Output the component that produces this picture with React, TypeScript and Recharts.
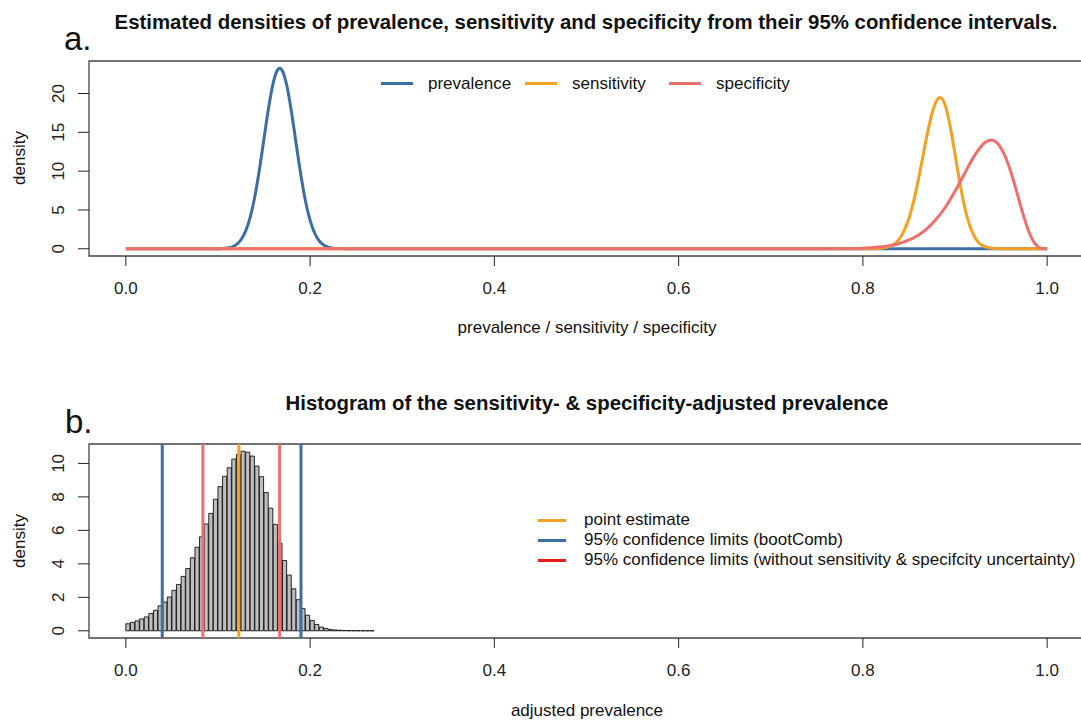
import React from "react";
import { ComposedChart, Line, Bar, XAxis, YAxis, ReferenceLine, ReferenceArea } from "recharts";

const FONT = '"Liberation Sans", Arial, Helvetica, sans-serif';

// ---- panel a: estimated densities ----
const prevalenceX = [0, 0.05, 0.1, 0.11, 0.12, 0.125, 0.13, 0.135, 0.14, 0.145, 0.15, 0.155, 0.16, 0.165, 0.167, 0.17, 0.175, 0.18, 0.185, 0.19, 0.195, 0.2, 0.205, 0.21, 0.215, 0.22, 0.23, 0.25, 0.5, 0.8, 1.0];
const prevalenceDensity = [0, 0, 0.01, 0.09, 0.54, 1.16, 2.27, 4.08, 6.74, 10.21, 14.23, 18.21, 21.4, 23.1, 23.26, 22.9, 20.87, 17.46, 13.41, 9.47, 6.13, 3.66, 2.0, 1.0, 0.46, 0.2, 0.03, 0, 0, 0, 0];

const sensitivityX = [0, 0.5, 0.78, 0.8, 0.81, 0.82, 0.83, 0.84, 0.85, 0.855, 0.86, 0.865, 0.87, 0.875, 0.88, 0.884, 0.89, 0.895, 0.9, 0.905, 0.91, 0.915, 0.92, 0.925, 0.93, 0.94, 0.95, 0.97, 1.0];
const sensitivityDensity = [0, 0, 0, 0, 0.01, 0.07, 0.34, 1.33, 3.93, 6.08, 8.78, 11.83, 14.86, 17.43, 19.07, 19.5, 18.25, 15.61, 12.18, 8.67, 5.63, 3.34, 1.81, 0.89, 0.4, 0.06, 0, 0, 0];

const specificityX = [0, 0.5, 0.75, 0.78, 0.8, 0.82, 0.84, 0.86, 0.87, 0.88, 0.89, 0.9, 0.91, 0.92, 0.93, 0.935, 0.94, 0.945, 0.95, 0.955, 0.96, 0.965, 0.97, 0.975, 0.98, 0.985, 0.99, 0.995, 1.0];
const specificityDensity = [0, 0, 0, 0.02, 0.08, 0.25, 0.69, 1.73, 2.62, 3.86, 5.45, 7.41, 9.61, 11.77, 13.42, 13.88, 14.0, 13.7, 12.96, 11.75, 10.12, 8.16, 6.06, 4.01, 2.25, 0.97, 0.26, 0.02, 0];

const seriesNames = ["prevalence", "sensitivity", "specificity"];
const seriesColors = ["#3b6ea6", "#f6a022", "#ef6f6c"];

// ---- panel b: histogram of adjusted prevalence (bins of 0.005 from 0) ----
const BIN_WIDTH = 0.005;
const histDensity = [
  0.42, 0.5, 0.59, 0.71, 0.83, 1.03, 1.23, 1.49, 1.72, 2.02,
  2.42, 2.77, 3.25, 3.72, 4.36, 4.99, 5.62, 6.38, 7.01, 7.86,
  8.61, 9.23, 9.74, 10.26, 10.53, 10.73, 10.67, 10.44, 9.84, 9.21,
  8.26, 7.33, 6.36, 5.23, 4.2, 3.33, 2.51, 1.86, 1.33, 0.93,
  0.61, 0.38, 0.22, 0.14, 0.08, 0.05, 0.03, 0.02, 0.01, 0.01,
  0.005, 0.005, 0.003, 0.002,
];
const pointEstimate = 0.1227;
const ciBootComb = [0.0395, 0.1901];
const ciNaive = [0.0836, 0.1669];

const limitNames = [
  "point estimate",
  "95% confidence limits (bootComb)",
  "95% confidence limits (without sensitivity & specifcity uncertainty)",
];
const limitColors = ["#f6a022", "#3b6ea6", "#e3201f"];

const X_TICKS = [0, 0.2, 0.4, 0.6, 0.8, 1.0];
const TICKS_A = [0, 5, 10, 15, 20];
const TICKS_B = [0, 2, 4, 6, 8, 10];
const X_DOMAIN: [number, number] = [-0.04, 1.04];
const Y_DOMAIN_A: [number, number] = [-0.93, 24.19];
const Y_DOMAIN_B: [number, number] = [-0.43, 11.16];

const toPoints = (xs: number[], ys: number[]) => xs.map((x, i) => ({ x, y: ys[i] }));
const histData = histDensity.map((d, i) => ({ x: i * BIN_WIDTH + BIN_WIDTH / 2, d }));

const XTick = ({ x, y, payload }: any) => (
  <text x={x} y={y + 20} textAnchor="middle" dominantBaseline="central" fontSize={17} fontFamily={FONT} fill="#222">
    {Number(payload.value).toFixed(1)}
  </text>
);

const YTick = ({ x, y, payload }: any) => (
  <text
    transform={`translate(${x - 18},${y}) rotate(-90)`}
    textAnchor="middle"
    dominantBaseline="central"
    fontSize={17}
    fontFamily={FONT}
    fill="#222"
  >
    {payload.value}
  </text>
);

const txt = (extra: React.CSSProperties): React.CSSProperties => ({
  position: "absolute",
  fontFamily: FONT,
  color: "#111",
  whiteSpace: "nowrap",
  lineHeight: 1,
  ...extra,
});

const CHART_W = 1100;
const PLOT_W = 995; // 89 .. 1084
const binPx = (BIN_WIDTH / (X_DOMAIN[1] - X_DOMAIN[0])) * PLOT_W;

export default function App() {
  const lines = [
    toPoints(prevalenceX, prevalenceDensity),
    toPoints(sensitivityX, sensitivityDensity),
    toPoints(specificityX, specificityDensity),
  ];

  return (
    <div style={{ position: "absolute", left: 0, top: 0, width: 1081, height: 721, overflow: "hidden", background: "#fff" }}>
      {/* panel a */}
      <div style={txt({ left: 64, top: 22, fontSize: 33 })}>a.</div>
      <div style={txt({ left: 586, top: 12, fontSize: 20.4, fontWeight: 700, transform: "translateX(-50%)" })}>
        Estimated densities of prevalence, sensitivity and specificity from their 95% confidence intervals.
      </div>
      <div style={{ position: "absolute", left: 0, top: 0 }}>
        <ComposedChart width={CHART_W} height={300} margin={{ top: 61, right: 16, bottom: 14, left: 49 }}>
          <XAxis dataKey="x" type="number" domain={X_DOMAIN} ticks={X_TICKS} allowDataOverflow
            height={30} axisLine={false} tickSize={10} tickLine={{ stroke: "#222" }} tick={<XTick />} interval={0} />
          <YAxis type="number" domain={Y_DOMAIN_A} ticks={TICKS_A} allowDataOverflow
            width={40} axisLine={false} tickSize={11} tickLine={{ stroke: "#222" }} tick={<YTick />} interval={0} />
          <ReferenceArea x1={X_DOMAIN[0]} x2={X_DOMAIN[1]} y1={Y_DOMAIN_A[0]} y2={Y_DOMAIN_A[1]}
            fill="none" fillOpacity={0} stroke="#444" strokeWidth={1.3} />
          {lines.map((pts, i) => (
            <Line key={seriesNames[i]} data={pts} dataKey="y" name={seriesNames[i]} type="monotone"
              stroke={seriesColors[i]} strokeWidth={3} dot={false} activeDot={false} isAnimationActive={false} />
          ))}
        </ComposedChart>
      </div>
      <div style={{ position: "absolute", left: 381, top: 74, display: "flex" }}>
        {seriesNames.map((n, i) => (
          <div key={n} style={{ width: 144, display: "flex", alignItems: "center" }}>
            <div style={{ width: 32, height: 3, background: seriesColors[i], marginRight: 15 }} />
            <span style={{ fontFamily: FONT, fontSize: 17, color: "#111", lineHeight: "19px" }}>{n}</span>
          </div>
        ))}
      </div>
      <div style={txt({ left: 19, top: 158, fontSize: 17, transform: "translate(-50%,-50%) rotate(-90deg)" })}>density</div>
      <div style={txt({ left: 587, top: 319, fontSize: 17, transform: "translateX(-50%)" })}>
        prevalence / sensitivity / specificity
      </div>

      {/* panel b */}
      <div style={txt({ left: 65, top: 405, fontSize: 33 })}>b.</div>
      <div style={txt({ left: 587, top: 393, fontSize: 20.4, fontWeight: 700, transform: "translateX(-50%)" })}>
        Histogram of the sensitivity- &amp; specificity-adjusted prevalence
      </div>
      <div style={{ position: "absolute", left: 0, top: 380 }}>
        <ComposedChart width={CHART_W} height={300} data={histData} margin={{ top: 64, right: 16, bottom: 12, left: 49 }}>
          <XAxis dataKey="x" type="number" domain={X_DOMAIN} ticks={X_TICKS} allowDataOverflow
            height={30} axisLine={false} tickSize={10} tickLine={{ stroke: "#222" }} tick={<XTick />} interval={0} />
          <YAxis type="number" domain={Y_DOMAIN_B} ticks={TICKS_B} allowDataOverflow
            width={40} axisLine={false} tickSize={11} tickLine={{ stroke: "#222" }} tick={<YTick />} interval={0} />
          <Bar dataKey="d" barSize={binPx} fill="#bebebe" stroke="#111" strokeWidth={0.9} isAnimationActive={false} />
          <ReferenceArea x1={X_DOMAIN[0]} x2={X_DOMAIN[1]} y1={Y_DOMAIN_B[0]} y2={Y_DOMAIN_B[1]}
            fill="none" fillOpacity={0} stroke="#444" strokeWidth={1.3} />
          <ReferenceLine x={ciBootComb[0]} stroke={seriesColors[0]} strokeWidth={3} />
          <ReferenceLine x={ciBootComb[1]} stroke={seriesColors[0]} strokeWidth={3} />
          <ReferenceLine x={ciNaive[0]} stroke={seriesColors[2]} strokeWidth={3} />
          <ReferenceLine x={ciNaive[1]} stroke={seriesColors[2]} strokeWidth={3} />
          <ReferenceLine x={pointEstimate} stroke={seriesColors[1]} strokeWidth={3} />
        </ComposedChart>
      </div>
      <div style={{ position: "absolute", left: 538, top: 510 }}>
        {limitNames.map((n, i) => (
          <div key={n} style={{ height: 20, display: "flex", alignItems: "center" }}>
            <div style={{ width: 28, height: 3, background: limitColors[i], marginRight: 18 }} />
            <span style={{ fontFamily: FONT, fontSize: 17, color: "#111" }}>{n}</span>
          </div>
        ))}
      </div>
      <div style={txt({ left: 19, top: 541, fontSize: 17, transform: "translate(-50%,-50%) rotate(-90deg)" })}>density</div>
      <div style={txt({ left: 587, top: 702, fontSize: 17, transform: "translateX(-50%)" })}>adjusted prevalence</div>
    </div>
  );
}
